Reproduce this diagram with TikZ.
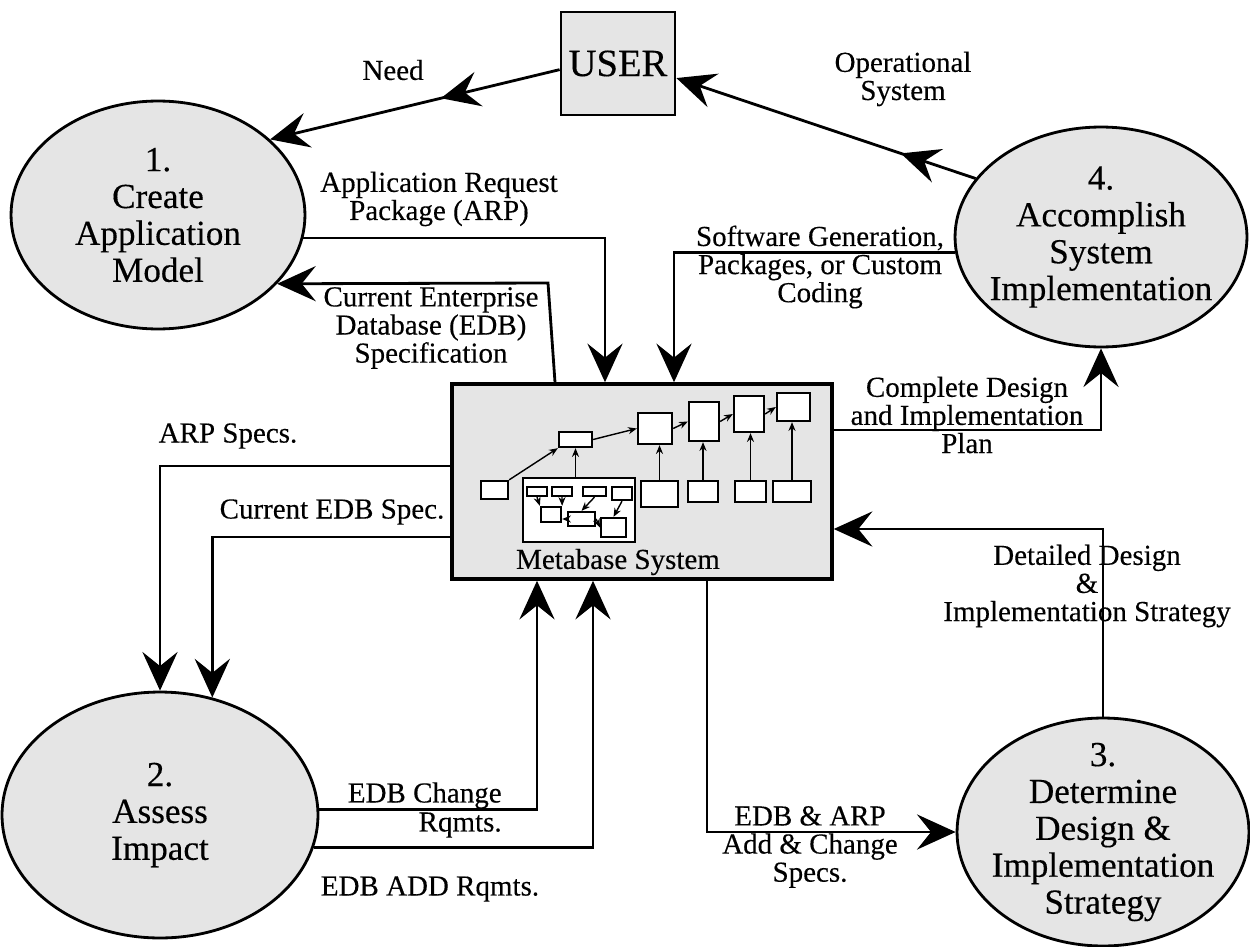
\documentclass[tikz,border=0pt]{standalone}
\usepackage{fontspec}
\setmainfont{Liberation Serif}[FakeBold=0.3]
\usetikzlibrary{arrows.meta,shapes.geometric,decorations.markings}
\definecolor{boxgray}{gray}{0.9}
\begin{document}
\begin{tikzpicture}[x=0.02cm,y=-0.02cm,
  conn/.style={line width=1.6pt},
  arr/.style={conn,-{Stealth[length=22pt,width=20pt,inset=8pt]}},
  midarr/.style={postaction={decorate},decoration={markings,mark=at position #1 with {\arrow{Stealth[length=22pt,width=20pt,inset=8pt]}}}},
  proc/.style={ellipse,draw,line width=1.6pt,fill=boxgray,inner sep=0pt},
  ptext/.style={align=center,font=\fontsize{20}{21}\selectfont,inner sep=0pt},
  lab/.style={align=center,font=\fontsize{16.5}{16}\selectfont,inner sep=0pt},
  ib/.style={draw,fill=white,line width=1.3pt,inner sep=0pt},
  iarr/.style={line width=0.8pt,-{Stealth[length=5pt,width=4pt]}}]
\useasboundingbox (0,0) rectangle (1250,946);

% main nodes
\node[draw,fill=boxgray,line width=1.6pt,minimum width=2.28cm,minimum height=2.06cm,inner sep=0pt,font=\fontsize{22}{22}\selectfont] (user) at (618,63.5) {USER};
\node[proc,minimum width=5.88cm,minimum height=4.56cm] (e1) at (158,215) {};
\node[ptext] (t1) at (e1) {1.\\Create\\Application\\Model};
\node[proc,minimum width=5.84cm,minimum height=4.4cm] (e4) at (1101,237) {};
\node[ptext] (t4) at (e4) {4.\\Accomplish\\System\\Implementation};
\node[proc,minimum width=6.32cm,minimum height=4.92cm] (e2) at (160,815) {};
\node[ptext] (t2) at (e2) {2.\\Assess\\Impact};
\node[proc,minimum width=5.84cm,minimum height=4.56cm] (e3) at (1103,832) {};
\node[ptext] (t3) at (e3) {3.\\Determine\\Design \&\\Implementation\\Strategy};
\node[draw,fill=boxgray,line width=2pt,minimum width=7.6cm,minimum height=3.9cm,inner sep=0pt] (meta) at (642,481.5) {};

% inner diagram
\node[ib,minimum width=0.54cm,minimum height=0.36cm] (bA) at (494.5,490) {};
\node[ib,minimum width=0.66cm,minimum height=0.30cm] (bB) at (575.5,439.5) {};
\node[ib,minimum width=2.24cm,minimum height=1.28cm] (cont) at (579,510) {};
\node[ib,minimum width=0.40cm,minimum height=0.18cm] (r1) at (537,491.5) {};
\node[ib,minimum width=0.40cm,minimum height=0.18cm] (r2) at (562,491.5) {};
\node[ib,minimum width=0.46cm,minimum height=0.18cm] (r3) at (594.5,491.5) {};
\node[ib,minimum width=0.40cm,minimum height=0.26cm] (r4) at (622,493.5) {};
\node[ib,minimum width=0.40cm,minimum height=0.30cm] (s1) at (551,514.5) {};
\node[ib,minimum width=0.54cm,minimum height=0.28cm] (s2) at (581.5,519) {};
\node[ib,minimum width=0.50cm,minimum height=0.38cm] (s3) at (613.5,527.5) {};
\node[ib,minimum width=0.68cm,minimum height=0.62cm] (bC) at (655,428.5) {};
\node[ib,minimum width=0.60cm,minimum height=0.78cm] (bD) at (704,421.5) {};
\node[ib,minimum width=0.60cm,minimum height=0.72cm] (bE) at (749,414) {};
\node[ib,minimum width=0.66cm,minimum height=0.56cm] (bF) at (793.5,407) {};
\node[ib,minimum width=0.74cm,minimum height=0.52cm] (bG) at (659.5,494) {};
\node[ib,minimum width=0.60cm,minimum height=0.42cm] (bH) at (703,491.5) {};
\node[ib,minimum width=0.62cm,minimum height=0.42cm] (bI) at (750.5,491.5) {};
\node[ib,minimum width=0.76cm,minimum height=0.42cm] (bJ) at (792,491.5) {};
\node[lab] (mlab) at (618,562) {Metabase System};

\draw[iarr] (bA.north east) -- (bB.south west);
\draw[iarr] (cont.north -| bB.south) -- (bB.south);
\draw[iarr] (bB.east) -- (bC.west);
\draw[iarr] (bC.east) -- (bD.west);
\draw[iarr] (bD.east) -- (bE.west);
\draw[iarr] (bE.east) -- (bF.west);
\draw[iarr] (bG.north) -- (bG.north |- bC.south);
\draw[iarr] (bH.north) -- (bH.north |- bD.south);
\draw[iarr] (bI.north) -- (bI.north |- bE.south);
\draw[iarr] (bJ.north) -- (bJ.north |- bF.south);
\draw[iarr] (r1.south) -- (s1.north west);
\draw[iarr] (r2.south) -- (s1.north east);
\draw[iarr] (r3.south) -- (s2.north);
\draw[iarr] (r4.south) -- (s3.north);
\draw[iarr] (s2.west) -- (s1.east |- s2.west);
\draw[iarr] (s2.east) -- (s3.west);

% connectors
\draw[arr,midarr=0.41] (user.186) -- (e1.34);
\draw[arr,midarr=0.25] (e4.155) -- (user.-14);
\draw[arr] (e1.-9) -| (meta.north -| 605,0);
\coordinate (c4) at (548,283);
\draw[arr] (meta.north -| 555,0) -- (c4) -- (e1.-30);
\draw[arr] (e4.186) -| (meta.north -| 674,0);
\draw[arr] (meta.east |- 0,430) -| (e4.south);
\draw[arr] (e3.north) |- (meta.east |- 0,529);
\draw[arr] (meta.west |- 0,466) -| (e2.north);
\draw[arr] (meta.west |- 0,537) -| (e2.66);
\draw[arr] (e2.2) -| (meta.south -| 537,0);
\draw[arr] (e2.-12) -| (meta.south -| 593,0);
\draw[arr] (meta.south -| 707,0) |- (e3.west);

% labels
\node[lab] (lneed) at (393,70) {Need};
\node[lab] (lop) at (903,79) {Operational\\System};
\node[lab] (larp) at (439,199) {Application Request\\Package (ARP)};
\node[lab] (lcur) at (431,328) {Current Enterprise\\Database (EDB)\\Specification};
\node[lab] (lsw) at (820,267) {Software Generation,\\Packages, or Custom\\Coding};
\node[lab] (lcd) at (967,415) {Complete Design\\and Implementation\\Plan};
\node[lab] (ldd) at (1087,586) {Detailed Design\\\&\\Implementation Strategy};
\node[lab] (lars) at (228,436) {ARP Specs.};
\node[lab] (lces) at (332,512) {Current EDB Spec.};
\node[lab,align=right,anchor=east,font=\fontsize{16.5}{16.5}\selectfont] (lchg) at (502,810) {EDB Change\\Rqmts.};
\node[lab] (ladd) at (430,889) {EDB ADD Rqmts.};
\node[lab] (lea) at (810,847) {EDB \& ARP\\Add \& Change\\Specs.};
\end{tikzpicture}
\end{document}
